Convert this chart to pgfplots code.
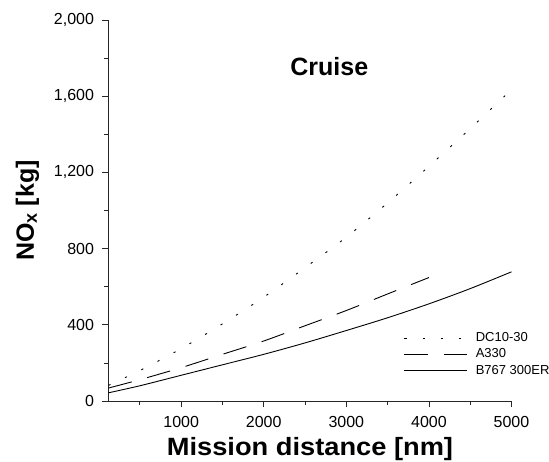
\documentclass[border=0pt]{standalone}
\usepackage{fontspec}
\setmainfont{Liberation Sans}
\usepackage{pgfplots}
\pgfplotsset{compat=1.18}

\begin{document}
\begin{tikzpicture}
\begin{axis}[
    scale only axis,
    width=403pt, height=381pt,
    xmin=120, xmax=5000, ymin=0, ymax=2000,
    axis x line*=bottom, axis y line*=left,
    axis line style={line width=0.8pt, black!85},
    tick align=outside,
    major tick length=6pt, minor tick length=4pt,
    tick style={line width=0.8pt, black!85},
    xtick={1000,2000,3000,4000,5000},
    minor xtick={500,1500,2500,3500,4500},
    ytick={0,400,800,1200,1600,2000},
    minor ytick={200,600,1000,1400,1800},
    /pgf/number format/assume math mode=true,
    /pgf/number format/1000 sep={},
    yticklabel={\pgfmathprintnumber[1000 sep={,}]{\tick}},
    ticklabel style={font=\fontsize{16}{18}\selectfont},
    xticklabel style={yshift=-6pt},
    yticklabel style={xshift=-5pt},
    xlabel={\scalebox{1.09}[1]{Mission distance [nm]}},
    ylabel={NO{\fontsize{18}{18}\selectfont\raisebox{-3pt}{x}} [kg]},
    label style={font=\fontsize{25}{30}\selectfont\bfseries},
    xlabel style={yshift=-3pt},
    ylabel style={yshift=8pt},
    legend cell align=left,
    legend style={at={(axis description cs:0.725,0.19)}, anchor=north west,
        draw=none, fill=none, font=\fontsize{13}{15}\selectfont,
        row sep=1.5pt,
        /tikz/every odd column/.append style={column sep=6pt}},
    legend image code/.code={\draw[#1] (0pt,0pt) -- (63pt,0pt);},
]
\addplot[black, line width=0.9pt, smooth, dash pattern=on 2.2pt off 16pt]
    coordinates {(120,82)(500,160)(1000,275)(1500,405)(2000,545)(2500,700)
                 (3000,860)(3500,1040)(4000,1232)(4500,1430)(5000,1635)};
\addlegendentry{DC10-30}
\addplot[black, line width=0.9pt, smooth, dash pattern=on 24pt off 16pt]
    coordinates {(120,68)(500,112)(1000,175)(1500,245)(2000,315)(2500,395)
                 (3000,475)(3500,562)(4000,648)};
\addlegendentry{A330}
\addplot[black, line width=0.9pt, smooth]
    coordinates {(120,43)(500,80)(1000,135)(1500,190)(2000,245)(2500,305)
                 (3000,370)(3500,437)(4000,510)(4500,590)(5000,678)};
\addlegendentry{B767 300ER}
\node[font=\fontsize{25}{30}\selectfont\bfseries] at (axis cs:2794,1758) {Cruise};
\end{axis}
\pgfresetboundingbox
\path (current axis.south west) ++(-108.5pt,-60pt) rectangle ++(549pt,461pt);
\end{tikzpicture}
\end{document}
